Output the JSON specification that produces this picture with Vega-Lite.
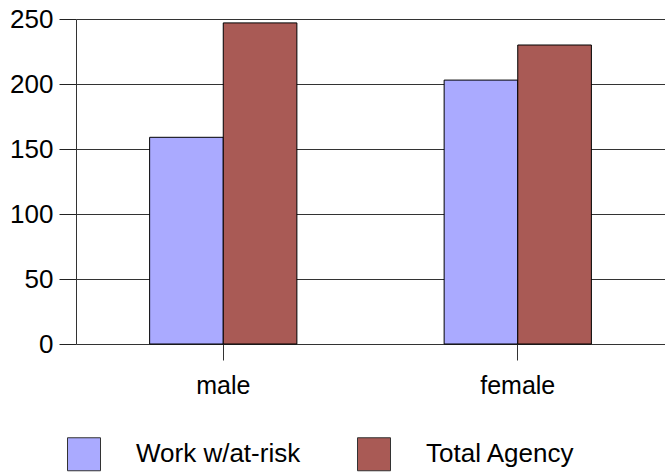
{
  "$schema": "https://vega.github.io/schema/vega-lite/v6.json",
  "width": 589,
  "height": 325,
  "autosize": {"type": "none"},
  "padding": {"left": 76, "top": 19, "right": 0, "bottom": 128},
  "background": "white",
  "data": {
    "values": [
      {"gender": "male", "series": "Work w/at-risk", "value": 159},
      {"gender": "male", "series": "Total Agency", "value": 247},
      {"gender": "female", "series": "Work w/at-risk", "value": 203},
      {"gender": "female", "series": "Total Agency", "value": 230}
    ]
  },
  "config": {
    "view": {"stroke": null},
    "font": "Liberation Sans"
  },
  "mark": {"type": "bar", "stroke": "black", "strokeWidth": 1},
  "encoding": {
    "x": {
      "field": "gender",
      "type": "nominal",
      "sort": ["male", "female"],
      "scale": {"paddingInner": 0.5, "paddingOuter": 0.25},
      "axis": {
        "title": null,
        "labelAngle": 0,
        "labelFontSize": 25,
        "labelColor": "black",
        "labelPadding": 13,
        "domain": false,
        "ticks": true,
        "tickSize": 16,
        "tickColor": "#333",
        "tickWidth": 1
      }
    },
    "xOffset": {
      "field": "series",
      "type": "nominal",
      "sort": ["Work w/at-risk", "Total Agency"],
      "scale": {"paddingInner": 0, "paddingOuter": 0}
    },
    "y": {
      "field": "value",
      "type": "quantitative",
      "scale": {"domain": [0, 250], "nice": false},
      "axis": {
        "title": null,
        "values": [0, 50, 100, 150, 200, 250],
        "labelFontSize": 26,
        "labelColor": "black",
        "labelPadding": 6,
        "ticks": true,
        "tickSize": 17,
        "tickColor": "#222",
        "tickWidth": 1,
        "domainColor": "#333",
        "grid": true,
        "gridColor": "#333",
        "gridOpacity": 1
      }
    },
    "color": {
      "field": "series",
      "type": "nominal",
      "sort": ["Work w/at-risk", "Total Agency"],
      "scale": {"domain": ["Work w/at-risk", "Total Agency"], "range": ["#aaaaff", "#a95a55"]},
      "legend": {
        "title": null,
        "orient": "none",
        "legendX": -9,
        "legendY": 418,
        "direction": "horizontal",
        "symbolType": "square",
        "symbolSize": 1089,
        "symbolStrokeColor": "#333",
        "symbolStrokeWidth": 1,
        "symbolOpacity": 1,
        "labelFontSize": 26,
        "labelColor": "black",
        "labelOffset": 35,
        "columnPadding": 54,
        "labelLimit": 300
      }
    }
  }
}
